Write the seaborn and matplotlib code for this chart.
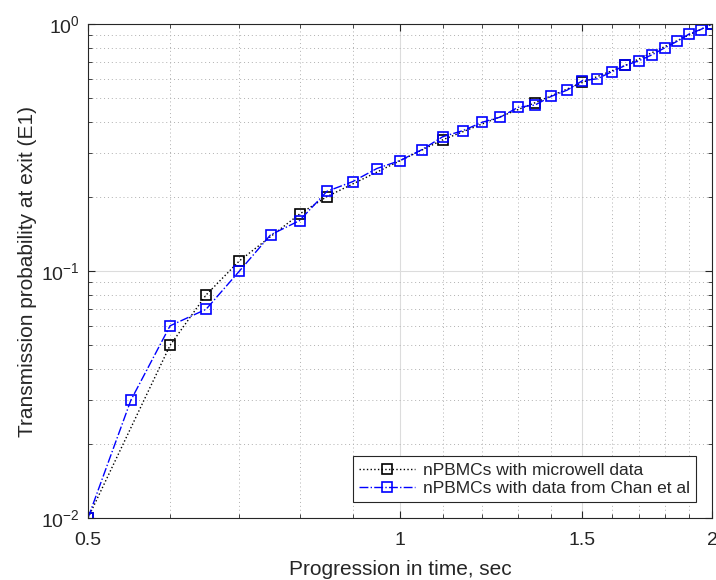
import numpy as np
import pandas as pd
import seaborn as sns
import matplotlib.pyplot as plt
from matplotlib.ticker import FixedLocator, FixedFormatter, LogLocator, NullFormatter

sns.set_style("white")
plt.rcParams['font.family'] = ['Liberation Sans', 'DejaVu Sans']
plt.rcParams['mathtext.fontset'] = 'custom'
plt.rcParams['mathtext.rm'] = 'Liberation Sans'

# microwell series
t_micro = [0.5, 0.6, 0.65, 0.7, 0.8, 0.85, 1.1, 1.35, 1.5, 1.65, 2.0]
p_micro = [0.01, 0.05, 0.08, 0.11, 0.17, 0.20, 0.34, 0.48, 0.58, 0.68, 1.0]

# Chan et al series
t_chan = [0.5, 0.55, 0.6, 0.65, 0.7, 0.75, 0.8, 0.85, 0.9, 0.95,
          1.0, 1.05, 1.1, 1.15, 1.2, 1.25, 1.3, 1.35, 1.4, 1.45,
          1.5, 1.55, 1.6, 1.65, 1.7, 1.75, 1.8, 1.85, 1.9, 1.95, 2.0]
p_chan = [0.01, 0.03, 0.06, 0.07, 0.10, 0.14, 0.16, 0.21, 0.23, 0.26,
          0.28, 0.31, 0.35, 0.37, 0.40, 0.42, 0.46, 0.47, 0.51, 0.54,
          0.59, 0.60, 0.64, 0.68, 0.71, 0.75, 0.80, 0.85, 0.91, 0.95, 1.0]

xticks = [0.5, 1, 1.5, 2]
xticklabels = ['0.5', '1', '1.5', '2']

df_micro = pd.DataFrame({'t': t_micro, 'p': p_micro})
df_chan = pd.DataFrame({'t': t_chan, 'p': p_chan})

fig = plt.figure(figsize=(7.16, 5.8), dpi=100)
ax = fig.add_axes([0.1229, 0.1069, 0.8715, 0.8517])

sns.lineplot(data=df_micro, x='t', y='p', ax=ax, color='black', ls=':', lw=1,
             marker='s', markersize=7, markerfacecolor='none', markeredgecolor='black',
             markeredgewidth=1.2, label='nPBMCs with microwell data')
sns.lineplot(data=df_chan, x='t', y='p', ax=ax, color='#0000ff', ls='-.', lw=1,
             marker='s', markersize=7, markerfacecolor='none', markeredgecolor='#0000ff',
             markeredgewidth=1.2, label='nPBMCs with data from Chan et al')

ax.set_xscale('log')
ax.set_yscale('log')
ax.set_xlim(0.5, 2)
ax.set_ylim(0.01, 1)

ax.xaxis.set_major_locator(FixedLocator(xticks))
ax.xaxis.set_major_formatter(FixedFormatter(xticklabels))
ax.xaxis.set_minor_locator(FixedLocator(np.arange(0.6, 1.95, 0.1)))
ax.xaxis.set_minor_formatter(NullFormatter())
ax.yaxis.set_minor_locator(LogLocator(base=10, subs=np.arange(2, 10)))
ax.yaxis.set_minor_formatter(NullFormatter())

ax.grid(True, which='major', color='#dcdcdc', lw=0.8, ls='-')
ax.grid(True, which='minor', color='#b0b0b0', lw=0.7, ls=(0, (1, 3)))
ax.set_axisbelow(True)

for s in ax.spines.values():
    s.set_color('#262626')
    s.set_linewidth(0.8)

ax.tick_params(which='both', direction='in', top=True, right=True,
               bottom=True, left=True, colors='#262626', labelcolor='#262626',
               labelsize=14)
ax.tick_params(axis='x', which='major', pad=10)
ax.tick_params(axis='y', which='major', pad=6)
ax.tick_params(which='major', length=5)
ax.tick_params(which='minor', length=3)

ax.set_xlabel('Progression in time, sec', fontsize=15, color='#262626', labelpad=8)
ax.set_ylabel('Transmission probability at exit (E1)', fontsize=15, color='#262626',
              labelpad=3)

leg = ax.legend(loc='lower right', frameon=True, fancybox=False, fontsize=12.5,
                edgecolor='#262626', framealpha=1, borderpad=0.35,
                handlelength=3.2, labelspacing=0.2, borderaxespad=0.9,
                handletextpad=0.5)
leg.get_frame().set_linewidth(0.8)

fig.savefig('out.png', dpi=100)
